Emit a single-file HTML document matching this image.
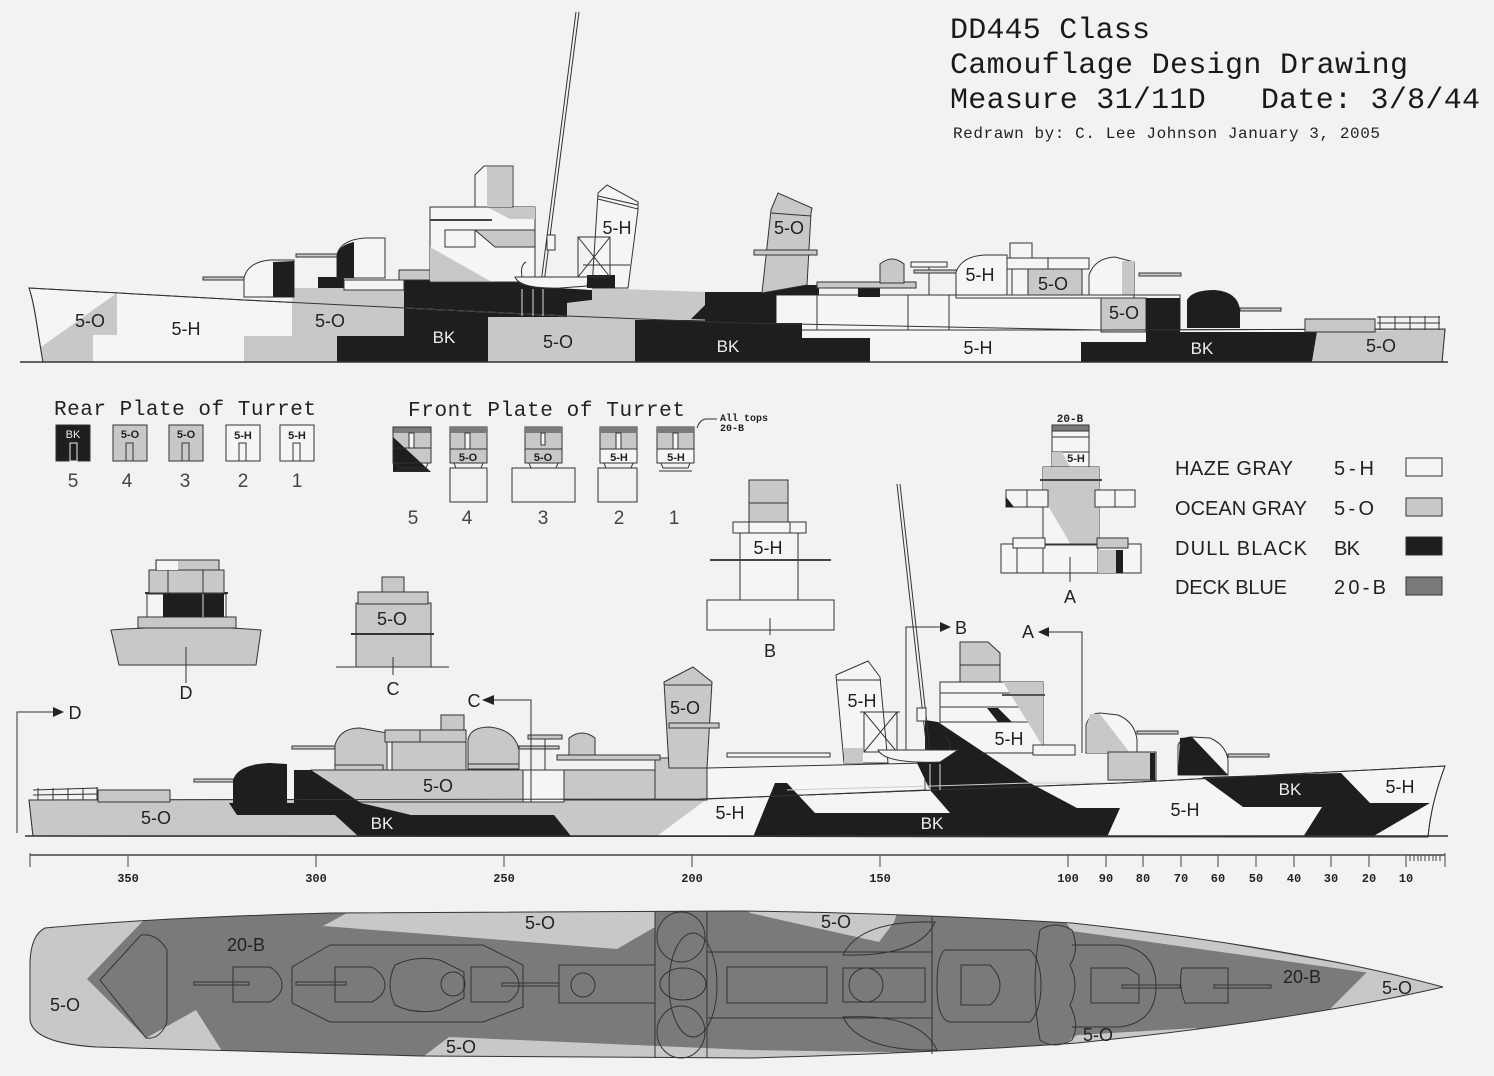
<!DOCTYPE html>
<html><head><meta charset="utf-8"><style>
html,body{margin:0;padding:0;background:#f2f2f2;}
svg{display:block;}
.o{stroke:#333;stroke-width:1;}
.G{fill:#c8c8c8;}
.K{fill:#1e1e1e;}
.W{fill:#f5f5f5;}
.B{fill:#7a7a7a;}
.n{fill:none;stroke:#333;stroke-width:1;}
.L{font-family:"Liberation Sans",sans-serif;font-size:18px;fill:#222;text-anchor:middle;}
.Lw{font-family:"Liberation Sans",sans-serif;font-size:17px;fill:#eee;text-anchor:middle;}
.s{font-family:"Liberation Sans",sans-serif;font-size:11px;font-weight:bold;fill:#222;text-anchor:middle;}
.m{font-family:"Liberation Mono",monospace;font-size:12px;font-weight:bold;fill:#222;text-anchor:middle;}
.T{font-family:"Liberation Mono",monospace;fill:#1a1a1a;}
.H{font-family:"Liberation Mono",monospace;font-size:21px;fill:#222;}
</style></head><body>
<svg width="1494" height="1076" viewBox="0 0 1494 1076" xmlns="http://www.w3.org/2000/svg">
<rect width="1494" height="1076" fill="#f2f2f2"/>

<!-- TITLE -->
<text class="T" x="950" y="38" font-size="30" textLength="200">DD445 Class</text>
<text class="T" x="950" y="73" font-size="30" textLength="458">Camouflage Design Drawing</text>
<text class="T" x="950" y="108" font-size="30" textLength="530">Measure 31/11D&#160;&#160;&#160;Date: 3/8/44</text>
<text x="953" y="138" font-family="Liberation Mono,monospace" font-size="16" fill="#222" textLength="427">Redrawn by: C. Lee Johnson January 3, 2005</text>

<!-- ================= TOP SHIP ================= -->
<path class="W o" d="M29,288 L244,300 L405,308 L567,316 L740,323 L1100,330 L1445,329 L1442,362 L43,362 C38,335 35,305 29,288 Z"/>
<rect class="W o" x="776" y="295" width="404" height="35"/>
<line class="o" x1="817" y1="295" x2="817" y2="330"/>
<line class="o" x1="908" y1="295" x2="908" y2="330"/>
<line class="o" x1="949" y1="295" x2="949" y2="330"/>
<polygon class="G" points="117,293 41,347 43,362 93,362 93,335 117,335"/>
<polygon class="G" points="292,288 404,288 404,336 337,336 337,362 244,362 244,336 292,336"/>
<polygon class="K" points="404,280 520,280 540,287 592,290 592,300 567,303 567,317 488,317 488,362 337,362 337,336 404,336"/>
<polygon class="G" points="488,317 567,317 567,303 592,300 592,288 705,292 705,305 690,320 635,320 635,362 488,362"/>
<polygon class="K" points="635,320 690,320 705,305 705,292 764,292 764,285 819,285 819,295 776,295 776,323 802,323 802,338 870,338 870,362 635,362"/>
<rect class="K" x="858" y="285" width="22" height="12"/>
<rect class="G o" x="1101" y="298" width="45" height="34"/>
<polygon class="K" points="1146,298 1180,298 1180,332 1317,332 1312,362 1081,362 1081,342 1146,342"/>
<polygon class="G" points="1317,332 1445,329 1442,362 1312,362"/>
<polyline fill="none" stroke="#ccc" stroke-width="1" points="405,308 567,316 705,320"/>
<path class="n" d="M29,288 L244,300 L405,308 L567,316 L740,323 L1100,330 L1445,329 L1442,362 L43,362 C38,335 35,305 29,288 Z"/>
<line x1="20" y1="362" x2="1448" y2="362" stroke="#333" stroke-width="1.5"/>

<!-- top turrets -->
<rect class="G o" x="203" y="277" width="43" height="3"/>
<path class="W o" d="M244,297 L244,278 Q248,262 270,260 L294,260 L294,297 Z"/>
<path class="K" d="M273,262 L294,261 L294,297 L273,297 Z"/>
<rect class="K" x="318" y="277" width="26" height="11"/>
<rect class="G o" x="296" y="254" width="43" height="3"/>
<path class="W o" d="M337,278 L337,255 Q340,240 365,238 L385,238 L385,278 Z"/>
<path class="K" d="M337,278 L337,255 Q339,245 354,242 L354,278 Z"/>
<rect class="W o" x="344" y="280" width="60" height="10"/>
<rect class="G o" x="399" y="270" width="41" height="10"/>
<!-- bridge -->
<rect class="W o" x="430" y="207" width="105" height="75"/>
<polygon class="G" points="430,247 430,281 490,281"/>
<line x1="430" y1="220" x2="492" y2="220" stroke="#444" stroke-width="2"/>
<rect class="W o" x="445" y="230" width="30" height="17"/>
<polygon class="G o" points="475,230 535,230 535,247 495,247"/>
<polygon class="G" points="487,207 535,207 535,219 510,219"/>
<path class="W o" d="M475,207 L475,175 L484,166 L513,166 L513,207 Z"/>
<rect class="G" x="487" y="167" width="25" height="40"/>
<!-- mast -->
<line x1="579" y1="12" x2="544" y2="283" stroke="#333" stroke-width="1"/>
<line x1="576" y1="12" x2="541" y2="283" stroke="#333" stroke-width="1"/>
<rect class="W o" x="547" y="235" width="8" height="15"/>
<!-- boat & davits -->
<path class="W o" d="M515,277 Q520,289 560,288 L587,286 L588,277 Z"/>
<path class="n" d="M522,277 Q520,265 526,262"/>
<line x1="522" y1="289" x2="522" y2="316" stroke="#ddd"/>
<line x1="533" y1="289" x2="533" y2="316" stroke="#ddd"/>
<line x1="543" y1="289" x2="543" y2="316" stroke="#ddd"/>
<!-- funnel 1 -->
<polygon class="W o" points="598,193 607,185 638,202 638,210 628,288 592,288"/>
<line class="o" x1="598" y1="196" x2="638" y2="205"/>
<line class="o" x1="598" y1="199" x2="638" y2="209"/>
<rect class="K" x="587" y="275" width="28" height="13"/>
<rect class="n" x="578" y="237" width="32" height="40"/>
<line class="o" x1="578" y1="237" x2="610" y2="277"/>
<line class="o" x1="610" y1="237" x2="578" y2="277"/>
<line class="o" x1="583" y1="265" x2="630" y2="265"/>
<!-- funnel 2 -->
<polygon class="G o" points="771,210 778,193 812,208 811,213 807,285 762,293"/>
<line class="o" x1="771" y1="213" x2="811" y2="216"/>
<rect class="G o" x="754" y="250" width="63" height="5"/>
<rect class="G o" x="817" y="282" width="99" height="6"/>
<path class="G o" d="M880,283 L880,264 Q892,254 904,264 L904,283 Z"/>
<rect class="W o" x="911" y="262" width="36" height="5"/>
<line class="o" x1="929" y1="267" x2="929" y2="295"/>
<rect class="G o" x="914" y="270" width="44" height="3"/>
<!-- fwd turrets top -->
<path class="W o" d="M956,295 L956,272 Q962,256 985,255 L1007,255 L1007,295 Z"/>
<rect class="W o" x="1010" y="243" width="22" height="15"/>
<rect class="W o" x="1007" y="258" width="82" height="11"/>
<line class="o" x1="1048" y1="258" x2="1048" y2="269"/>
<rect class="W o" x="1012" y="269" width="16" height="28"/>
<rect class="G o" x="1028" y="269" width="54" height="28"/>
<rect class="G o" x="1139" y="273" width="42" height="3"/>
<path class="W o" d="M1089,297 L1089,275 Q1095,258 1115,257 L1134,262 L1134,297 Z"/>
<rect class="G" x="1122" y="261" width="12" height="36"/>
<rect class="W o" x="956" y="295" width="178" height="3"/>
<rect class="G o" x="1240" y="308" width="41" height="3"/>
<path class="K" d="M1187,328 L1187,300 Q1192,290 1215,290 Q1238,292 1240,310 L1240,328 Z"/>
<rect class="G o" x="1305" y="319" width="70" height="13"/>
<g class="n"><line x1="1377" y1="317" x2="1440" y2="317"/><line x1="1377" y1="323" x2="1440" y2="323"/>
<line x1="1380" y1="316" x2="1380" y2="330"/><line x1="1395" y1="316" x2="1395" y2="330"/><line x1="1410" y1="316" x2="1410" y2="330"/><line x1="1425" y1="316" x2="1425" y2="330"/><line x1="1439" y1="316" x2="1439" y2="330"/></g>

<!-- top ship labels -->
<text class="L" x="90" y="327">5-O</text>
<text class="L" x="186" y="335">5-H</text>
<text class="L" x="330" y="327">5-O</text>
<text class="Lw" x="444" y="343">BK</text>
<text class="L" x="558" y="348">5-O</text>
<text class="Lw" x="728" y="352">BK</text>
<text class="L" x="978" y="354">5-H</text>
<text class="Lw" x="1202" y="354">BK</text>
<text class="L" x="1381" y="352">5-O</text>
<text class="L" x="1124" y="319">5-O</text>
<text class="L" x="617" y="234">5-H</text>
<text class="L" x="789" y="234">5-O</text>
<text class="L" x="980" y="281">5-H</text>
<text class="L" x="1053" y="290">5-O</text>

<!-- ================= REAR PLATE ================= -->
<text class="H" x="54" y="415" textLength="262">Rear Plate of Turret</text>
<rect class="K o" x="56" y="425" width="34" height="36"/>
<text x="73" y="438" font-family="Liberation Sans,sans-serif" font-size="11" fill="#eee" text-anchor="middle">BK</text>
<rect x="70" y="443" width="7" height="18" fill="none" stroke="#eee"/>
<rect class="G o" x="113" y="425" width="34" height="36"/>
<text class="s" x="130" y="438">5-O</text>
<rect class="n" x="126" y="443" width="7" height="18"/>
<rect class="G o" x="169" y="425" width="34" height="36"/>
<text class="s" x="186" y="438">5-O</text>
<rect class="n" x="182" y="443" width="7" height="18"/>
<rect class="W o" x="226" y="425" width="34" height="36"/>
<text class="s" x="243" y="439">5-H</text>
<rect class="n" x="239" y="443" width="7" height="18"/>
<rect class="W o" x="280" y="425" width="34" height="36"/>
<text class="s" x="297" y="439">5-H</text>
<rect class="n" x="293" y="443" width="7" height="18"/>
<g font-family="Liberation Sans,sans-serif" font-size="19" fill="#444" text-anchor="middle">
<text x="73" y="487">5</text><text x="127" y="487">4</text><text x="185" y="487">3</text><text x="243" y="487">2</text><text x="297" y="487">1</text>
<text x="413" y="524">5</text><text x="467" y="524">4</text><text x="543" y="524">3</text><text x="619" y="524">2</text><text x="674" y="524">1</text>
</g>

<!-- ================= FRONT PLATE ================= -->
<text class="H" x="408" y="416" textLength="277">Front Plate of Turret</text>
<text x="720" y="421" font-family="Liberation Mono,monospace" font-size="10" font-weight="bold" fill="#222">All tops</text>
<text x="720" y="431" font-family="Liberation Mono,monospace" font-size="10" font-weight="bold" fill="#222">20-B</text>
<path class="n" d="M717,419 L705,419 Q699,421 697,428"/>
<!-- turret 5 -->
<rect class="G" x="393" y="433" width="38" height="30"/>
<polygon class="K" points="393,437 431,472 393,472"/>
<rect class="B" x="393" y="427" width="38" height="6"/>
<rect class="n" x="393" y="427" width="38" height="36"/>
<line class="o" x1="393" y1="448" x2="431" y2="448"/>
<rect class="W o" x="409" y="433" width="5" height="15"/>
<polygon class="n" points="397,463 428,463 426,468 399,468"/>
<line class="o" x1="395" y1="471" x2="430" y2="471"/>
<!-- turret 4 -->
<g>
<rect class="G o" x="450" y="427" width="37" height="36"/><rect class="B" x="450" y="427" width="37" height="6"/>
<line class="o" x1="450" y1="449" x2="487" y2="449"/><rect class="W o" x="465" y="433" width="5" height="16"/>
<text class="s" x="468" y="461">5-O</text>
<polygon class="n" points="454,463 483,463 481,468 456,468"/><rect class="n" x="450" y="468" width="37" height="34"/>
</g>
<g>
<rect class="G o" x="525" y="427" width="37" height="36"/><rect class="B" x="525" y="427" width="37" height="6"/>
<line class="o" x1="525" y1="449" x2="562" y2="449"/><rect class="W o" x="541" y="433" width="4" height="12"/>
<text class="s" x="543" y="461">5-O</text>
<polygon class="n" points="529,463 558,463 556,468 531,468"/><rect class="n" x="512" y="468" width="63" height="34"/>
</g>
<g>
<rect class="G o" x="600" y="427" width="37" height="36"/><rect class="B" x="600" y="427" width="37" height="6"/>
<rect class="W o" x="600" y="449" width="37" height="14"/><rect class="W o" x="616" y="433" width="5" height="16"/>
<text class="s" x="619" y="461">5-H</text>
<polygon class="n" points="604,463 633,463 631,468 606,468"/><rect class="n" x="598" y="468" width="39" height="34"/>
</g>
<g>
<rect class="G o" x="657" y="427" width="37" height="36"/><rect class="B" x="657" y="427" width="37" height="6"/>
<rect class="W o" x="657" y="449" width="37" height="14"/><rect class="W o" x="673" y="433" width="5" height="16"/>
<text class="s" x="676" y="461">5-H</text>
<polygon class="n" points="661,463 690,463 688,468 663,468"/><line class="o" x1="659" y1="471" x2="692" y2="471"/>
</g>

<!-- ================= SECTION B ================= -->
<rect class="G o" x="749" y="480" width="39" height="42"/>
<line class="o" x1="749" y1="503" x2="788" y2="503"/>
<rect class="W o" x="733" y="522" width="73" height="11"/>
<line class="o" x1="749" y1="522" x2="749" y2="533"/><line class="o" x1="790" y1="522" x2="790" y2="533"/>
<rect class="W o" x="740" y="533" width="58" height="67"/>
<line x1="710" y1="560" x2="831" y2="560" stroke="#444" stroke-width="2"/>
<rect class="W o" x="707" y="600" width="127" height="30"/>
<line class="o" x1="770" y1="618" x2="770" y2="635"/>
<text class="L" x="768" y="554">5-H</text>
<text class="L" x="770" y="657" fill="#444">B</text>

<!-- ================= SECTION A ================= -->
<text x="1070" y="422" font-family="Liberation Mono,monospace" font-size="11" font-weight="bold" fill="#222" text-anchor="middle">20-B</text>
<rect class="B o" x="1052" y="425" width="37" height="6"/>
<rect class="W o" x="1052" y="431" width="37" height="21"/>
<line class="o" x1="1052" y1="437" x2="1089" y2="437"/>
<rect class="W o" x="1052" y="452" width="37" height="15"/>
<polygon class="G" points="1052,452 1062,452 1070,467 1052,467"/>
<rect class="W o" x="1043" y="467" width="56" height="78"/>
<polygon class="G" points="1043,467 1099,467 1099,545 1071,545 1043,497"/>
<line x1="1040" y1="480" x2="1102" y2="480" stroke="#444" stroke-width="2"/>
<rect class="W o" x="1006" y="490" width="42" height="17"/>
<line class="o" x1="1027" y1="490" x2="1027" y2="507"/>
<polygon class="K" points="1006,497 1014,507 1006,507"/>
<rect class="W o" x="1095" y="490" width="40" height="17"/>
<line class="o" x1="1115" y1="490" x2="1115" y2="507"/>
<rect class="W o" x="1001" y="544" width="140" height="29"/>
<line class="o" x1="1017" y1="544" x2="1017" y2="573"/>
<rect class="W o" x="1043" y="545" width="55" height="28"/>
<rect class="W o" x="1013" y="538" width="32" height="10"/>
<rect class="G o" x="1097" y="538" width="31" height="10"/>
<rect class="G" x="1098" y="550" width="18" height="23"/>
<rect class="K" x="1116" y="550" width="7" height="23"/>
<line class="o" x1="1070" y1="557" x2="1070" y2="582"/>
<text x="1076" y="462" class="s" font-size="12">5-H</text>
<text class="L" x="1070" y="603" fill="#444">A</text>

<!-- ================= LEGEND ================= -->
<g font-family="Liberation Sans,sans-serif" font-size="20" fill="#222">
<text x="1175" y="475" textLength="118">HAZE GRAY</text><text x="1334" y="475" textLength="40">5-H</text>
<text x="1175" y="515" textLength="132">OCEAN GRAY</text><text x="1334" y="515" textLength="40">5-O</text>
<text x="1175" y="555" textLength="132">DULL BLACK</text><text x="1334" y="555" textLength="26">BK</text>
<text x="1175" y="594" textLength="112">DECK BLUE</text><text x="1334" y="594" textLength="52">20-B</text>
</g>
<rect class="W o" x="1406" y="458" width="36" height="18"/>
<rect class="G o" x="1406" y="498" width="36" height="18"/>
<rect class="K o" x="1406" y="537" width="36" height="18"/>
<rect class="B o" x="1406" y="577" width="36" height="18"/>

<!-- ================= SECTION D ================= -->
<path class="G o" d="M111,630 Q186,624 261,630 L256,665 L119,665 Z"/>
<rect class="G o" x="138" y="617" width="98" height="11"/>
<rect class="W o" x="147" y="594" width="79" height="23"/>
<rect class="K" x="163" y="594" width="61" height="23"/>
<line x1="203" y1="594" x2="203" y2="617" stroke="#ddd"/>
<line x1="145" y1="593" x2="228" y2="593" stroke="#333" stroke-width="2"/>
<rect class="G o" x="149" y="570" width="75" height="23"/>
<line class="o" x1="168" y1="570" x2="168" y2="593"/><line class="o" x1="203" y1="570" x2="203" y2="593"/>
<rect class="G o" x="156" y="560" width="63" height="10"/>
<rect class="W" x="157" y="561" width="21" height="9"/>
<line class="o" x1="186" y1="647" x2="186" y2="683"/>
<text class="L" x="186" y="699" fill="#444">D</text>

<!-- ================= SECTION C ================= -->
<rect class="G o" x="356" y="634" width="75" height="33"/>
<line class="o" x1="336" y1="667" x2="449" y2="667"/>
<rect class="G o" x="356" y="603" width="75" height="31"/>
<line x1="351" y1="634" x2="434" y2="634" stroke="#333" stroke-width="2"/>
<rect class="G o" x="358" y="592" width="70" height="12"/>
<rect class="G o" x="382" y="577" width="22" height="15"/>
<line class="o" x1="393" y1="657" x2="393" y2="675"/>
<text class="L" x="392" y="625">5-O</text>
<text class="L" x="393" y="695" fill="#444">C</text>

<!-- ================= LOWER SHIP ================= -->
<path class="W o" d="M29,800 L700,799 L1120,783 L1445,766 C1436,790 1430,815 1428,837 L33,836 Z"/>
<polygon class="G" points="29,800 707,799 657,836 33,836"/>
<!-- deckhouses -->
<polygon class="W o" points="707,768 925,763 925,790 707,799"/>
<rect class="G o" x="311" y="770" width="212" height="32"/>
<rect class="W o" x="523" y="770" width="41" height="32"/>
<line class="o" x1="531" y1="770" x2="531" y2="802"/>
<rect class="G o" x="564" y="770" width="91" height="30"/>
<rect class="G o" x="655" y="758" width="52" height="42"/>
<polygon class="K" points="294,770 311,770 361,803 294,803"/>
<polygon class="K" points="229,803 361,803 411,815 554,815 571,836 358,836 335,815 237,815"/>
<!-- bridge lower -->
<rect class="W o" x="940" y="682" width="103" height="71"/>
<line class="o" x1="940" y1="693" x2="1043" y2="693"/>
<rect class="W o" x="940" y="707" width="88" height="15"/>
<polygon class="G" points="1003,682 1043,682 1043,747"/>
<line x1="1002" y1="695" x2="1045" y2="695" stroke="#555" stroke-width="2"/>
<polygon class="K" points="987,708 998,708 998,722"/>
<polygon class="K" points="998,708 1012,722 998,722"/>
<path class="G o" d="M960,682 L960,642 L988,642 L1000,653 L1000,682 Z"/>
<line class="o" x1="960" y1="665" x2="1000" y2="665"/>
<rect class="W o" x="1033" y="745" width="42" height="10"/>
<!-- central black -->
<polygon class="K" points="753,837 775,783 787,783 815,813 950,813 930,790 917,763 925,760 925,720 938,722 1030,783 1077,808 1120,808 1107,837"/>
<polygon class="K" points="1202,777 1341,773 1370,803 1430,803 1372,837 1303,837 1322,807 1243,807"/>
<polyline fill="none" stroke="#ccc" points="787,790 933,786 1030,783 1120,783"/>
<path class="n" d="M29,800 L700,799 L1120,783 L1445,766 C1436,790 1430,815 1428,837 L33,836 Z"/>
<line x1="25" y1="836" x2="1448" y2="836" stroke="#333" stroke-width="1.5"/>
<!-- funnels -->
<polygon class="G o" points="664,682 693,667 712,682 707,768 669,768"/>
<line class="o" x1="664" y1="685" x2="712" y2="685"/>
<rect class="G o" x="669" y="723" width="50" height="5"/>
<polygon class="W o" points="836,675 868,661 880,677 888,763 844,763"/>
<line class="o" x1="837" y1="680" x2="881" y2="680"/>
<rect class="G" x="844" y="748" width="19" height="15"/>
<rect class="n" x="864" y="712" width="33" height="40"/>
<line class="o" x1="864" y1="712" x2="897" y2="752"/><line class="o" x1="897" y1="712" x2="864" y2="752"/>
<line class="o" x1="860" y1="712" x2="900" y2="712"/>
<rect class="W o" x="727" y="753" width="103" height="4"/>
<!-- mast and boat -->
<line x1="897" y1="484" x2="928" y2="760" stroke="#333"/>
<line x1="900" y1="484" x2="931" y2="760" stroke="#333"/>
<rect class="W o" x="917" y="708" width="9" height="13"/>
<path class="W o" d="M878,750 Q885,764 940,762 L958,750 Z"/>
<path class="n" d="M950,750 Q950,740 945,737"/>
<line x1="930" y1="764" x2="930" y2="790" stroke="#ddd"/><line x1="940" y1="764" x2="940" y2="790" stroke="#ddd"/>
<!-- lower turrets -->
<rect class="G o" x="194" y="779" width="43" height="3"/>
<path class="K" d="M233,803 L233,780 Q238,764 270,763 L287,764 L287,803 Z"/>
<rect class="G o" x="292" y="746" width="43" height="3"/>
<path class="G o" d="M335,770 L335,745 Q340,728 360,728 L387,733 L387,770 Z"/>
<rect class="G o" x="335" y="765" width="48" height="5"/>
<rect class="G o" x="392" y="740" width="74" height="30"/>
<rect class="G o" x="385" y="730" width="81" height="12"/>
<line class="o" x1="420" y1="730" x2="420" y2="742"/>
<rect class="G o" x="441" y="715" width="23" height="15"/>
<rect class="G o" x="519" y="746" width="40" height="3"/>
<path class="G o" d="M468,768 L468,740 Q470,727 490,727 Q515,730 519,750 L519,768 Z"/>
<rect class="G o" x="468" y="764" width="51" height="5"/>
<rect class="G o" x="528" y="735" width="34" height="4"/>
<line class="o" x1="545" y1="739" x2="545" y2="770"/>
<path class="G o" d="M569,755 L569,738 Q582,728 595,738 L595,755 Z"/>
<rect class="G o" x="557" y="755" width="103" height="5"/>
<rect class="G o" x="1137" y="731" width="41" height="3"/>
<path class="W o" d="M1086,753 L1086,725 Q1090,713 1100,713 L1118,715 Q1135,722 1137,740 L1137,753 Z"/>
<polygon class="G" points="1090,714 1100,714 1130,753 1087,753 1087,725"/>
<rect class="G o" x="1108" y="752" width="48" height="28"/>
<rect class="K" x="1150" y="753" width="5" height="27"/>
<rect class="G o" x="1228" y="754" width="41" height="3"/>
<path class="W o" d="M1178,775 L1178,745 Q1182,737 1192,737 L1210,738 Q1226,745 1228,760 L1228,775 Z"/>
<polygon class="K" points="1180,738 1192,737 1228,775 1178,775"/>
<!-- stern deckhouse and rail -->
<rect class="G o" x="98" y="790" width="72" height="12"/>
<g class="n"><line x1="33" y1="790" x2="98" y2="788"/><line x1="33" y1="795" x2="98" y2="794"/>
<line x1="38" y1="788" x2="38" y2="800"/><line x1="53" y1="788" x2="53" y2="800"/><line x1="68" y1="788" x2="68" y2="800"/><line x1="83" y1="788" x2="83" y2="800"/><line x1="97" y1="787" x2="97" y2="800"/></g>
<!-- section markers -->
<polyline class="n" points="17,833 17,712 54,712"/>
<polygon fill="#222" points="53,707 64,712 53,717"/>
<text class="L" x="75" y="719" fill="#444">D</text>
<polyline class="n" points="531,800 531,700 493,700"/>
<polygon fill="#222" points="494,695 482,700 494,705"/>
<text class="L" x="474" y="707" fill="#444">C</text>
<polyline class="n" points="906,750 906,627 941,627"/>
<polygon fill="#222" points="940,622 951,627 940,632"/>
<text class="L" x="961" y="634" fill="#444">B</text>
<polyline class="n" points="1082,753 1082,632 1048,632"/>
<polygon fill="#222" points="1049,627 1038,632 1049,637"/>
<text class="L" x="1028" y="638" fill="#444">A</text>
<!-- lower labels -->
<text class="L" x="156" y="824">5-O</text>
<text class="Lw" x="382" y="829">BK</text>
<text class="L" x="438" y="792">5-O</text>
<text class="L" x="730" y="819">5-H</text>
<text class="Lw" x="932" y="829">BK</text>
<text class="L" x="1185" y="816">5-H</text>
<text class="Lw" x="1290" y="795">BK</text>
<text class="L" x="1400" y="793">5-H</text>
<text class="L" x="685" y="714">5-O</text>
<text class="L" x="862" y="707">5-H</text>
<text class="L" x="1009" y="745">5-H</text>

<!-- ================= SCALE ================= -->
<line x1="30" y1="855" x2="1445" y2="855" stroke="#444" stroke-width="1.5"/>
<g stroke="#444" stroke-width="1">
<line x1="30" y1="853" x2="30" y2="867"/><line x1="1445" y1="853" x2="1445" y2="867"/>
<line x1="128" y1="855" x2="128" y2="867"/><line x1="316" y1="855" x2="316" y2="867"/><line x1="504" y1="855" x2="504" y2="867"/>
<line x1="692" y1="855" x2="692" y2="867"/><line x1="880" y1="855" x2="880" y2="867"/><line x1="1068" y1="855" x2="1068" y2="867"/>
<line x1="1106" y1="855" x2="1106" y2="867"/><line x1="1143" y1="855" x2="1143" y2="867"/><line x1="1181" y1="855" x2="1181" y2="867"/>
<line x1="1218" y1="855" x2="1218" y2="867"/><line x1="1256" y1="855" x2="1256" y2="867"/><line x1="1294" y1="855" x2="1294" y2="867"/>
<line x1="1331" y1="855" x2="1331" y2="867"/><line x1="1369" y1="855" x2="1369" y2="867"/><line x1="1406" y1="855" x2="1406" y2="867"/>
<line x1="1410" y1="855" x2="1410" y2="861"/><line x1="1414" y1="855" x2="1414" y2="861"/><line x1="1418" y1="855" x2="1418" y2="861"/>
<line x1="1421" y1="855" x2="1421" y2="861"/><line x1="1425" y1="855" x2="1425" y2="861"/><line x1="1429" y1="855" x2="1429" y2="861"/>
<line x1="1433" y1="855" x2="1433" y2="861"/><line x1="1436" y1="855" x2="1436" y2="861"/><line x1="1440" y1="855" x2="1440" y2="861"/>
</g>
<g class="m">
<text x="128" y="882">350</text><text x="316" y="882">300</text><text x="504" y="882">250</text><text x="692" y="882">200</text>
<text x="880" y="882">150</text><text x="1068" y="882">100</text><text x="1106" y="882">90</text><text x="1143" y="882">80</text>
<text x="1181" y="882">70</text><text x="1218" y="882">60</text><text x="1256" y="882">50</text><text x="1294" y="882">40</text>
<text x="1331" y="882">30</text><text x="1369" y="882">20</text><text x="1406" y="882">10</text>
</g>

<!-- ================= PLAN VIEW ================= -->
<defs><clipPath id="pc"><path d="M45,928 Q31,935 30,962 L30,1020 Q33,1043 96,1047 L420,1056 L750,1058 Q950,1052 1077,1043 Q1300,1020 1443,987 Q1300,948 1072,923 Q900,913 740,911 L330,913 Q150,918 45,928 Z"/></clipPath></defs>
<g clip-path="url(#pc)">
<rect class="B" x="0" y="900" width="1494" height="170"/>
<polygon class="G" points="0,900 143,900 143,921 87,979 146,1038 196,1010 234,1070 0,1070"/>
<polygon class="G" points="323,926 347,913 655,910 655,927 617,949"/>
<polygon class="G" points="416,1062 449,1037 750,1050 932,1053 932,1070 416,1070"/>
<polygon class="G" points="745,905 900,905 894,922 879,942 750,913"/>
<polygon class="G" points="1060,914 1450,983 1370,973 1072,931"/>
<polygon class="G" points="1370,969 1460,960 1460,1040 1300,1040 1317,1022"/>
<polygon class="G" points="1053,1052 1077,1035 1197,1028 1180,1046 1053,1060"/>
</g>
<path class="n" d="M45,928 Q31,935 30,962 L30,1020 Q33,1043 96,1047 L420,1056 L750,1058 Q950,1052 1077,1043 Q1300,1020 1443,987 Q1300,948 1072,923 Q900,913 740,911 L330,913 Q150,918 45,928 Z"/>
<g class="n">
<path d="M141,935 Q157,933 167,950 L167,1022 Q160,1040 146,1038 L100,980 Z"/>
<rect x="194" y="982" width="55" height="3"/>
<path d="M233,967 L270,967 Q282,975 282,985 Q282,995 270,1002 L233,1002 Z"/>
<polygon points="330,945 483,945 523,965 523,1007 483,1022 330,1022 292,1003 292,967"/>
<path d="M335,967 L372,967 Q385,975 385,985 Q385,995 372,1002 L335,1002 Z"/>
<rect x="296" y="982" width="50" height="3"/>
<path d="M395,965 Q415,955 440,960 L464,972 L464,998 L440,1010 Q415,1015 395,1005 Q385,985 395,965 Z"/>
<circle cx="453" cy="984" r="12"/>
<path d="M471,967 L508,967 Q519,975 519,985 Q519,995 508,1002 L471,1002 Z"/>
<rect x="502" y="983" width="57" height="3"/>
<rect x="559" y="965" width="96" height="38"/>
<circle cx="583" cy="985" r="12"/>
<line x1="655" y1="912" x2="655" y2="1058"/><line x1="707" y1="911" x2="707" y2="1058"/>
<line x1="932" y1="916" x2="932" y2="1054"/>
<ellipse cx="681" cy="937" rx="24" ry="25"/><ellipse cx="683" cy="984" rx="23" ry="16"/><ellipse cx="681" cy="1032" rx="24" ry="26"/>
<ellipse cx="693" cy="985" rx="24" ry="52"/>
<line x1="707" y1="952" x2="932" y2="952"/><line x1="707" y1="1018" x2="932" y2="1018"/>
<rect x="727" y="967" width="100" height="36"/>
<rect x="843" y="968" width="82" height="34"/>
<circle cx="866" cy="985" r="17"/>
<path d="M843,955 Q860,920 935,922 Q920,957 843,955 Z"/>
<path d="M843,1017 Q920,1013 937,1050 Q860,1052 843,1017 Z"/>
<path d="M945,950 Q937,955 937,985 Q937,1020 950,1022 L1030,1022 Q1041,1010 1041,985 Q1041,960 1030,950 Z"/>
<path d="M961,965 L990,965 Q1000,975 1000,985 Q1000,997 990,1005 L961,1005 Z"/>
<path d="M1040,930 Q1055,920 1072,930 Q1080,950 1070,965 Q1080,985 1070,1005 Q1080,1025 1072,1040 Q1055,1050 1040,1040 Q1030,985 1040,930 Z"/>
<path d="M1072,945 L1120,945 Q1156,950 1156,986 Q1156,1022 1120,1027 L1072,1027"/>
<path d="M1091,968 L1128,968 L1139,975 L1139,1003 L1091,1003 Z"/>
<rect x="1122" y="985" width="58" height="3"/>
<path d="M1182,968 L1228,968 L1228,1003 L1185,1003 Q1178,985 1182,968 Z"/>
<rect x="1214" y="985" width="57" height="3"/>
</g>
<text class="L" x="540" y="929">5-O</text>
<text class="L" x="246" y="951" font-size="20">20-B</text>
<text class="L" x="65" y="1011">5-O</text>
<text class="L" x="461" y="1053">5-O</text>
<text class="L" x="836" y="928">5-O</text>
<text class="L" x="1302" y="983" font-size="20">20-B</text>
<text class="L" x="1397" y="994">5-O</text>
<text class="L" x="1098" y="1041">5-O</text>
</svg>
</body></html>
